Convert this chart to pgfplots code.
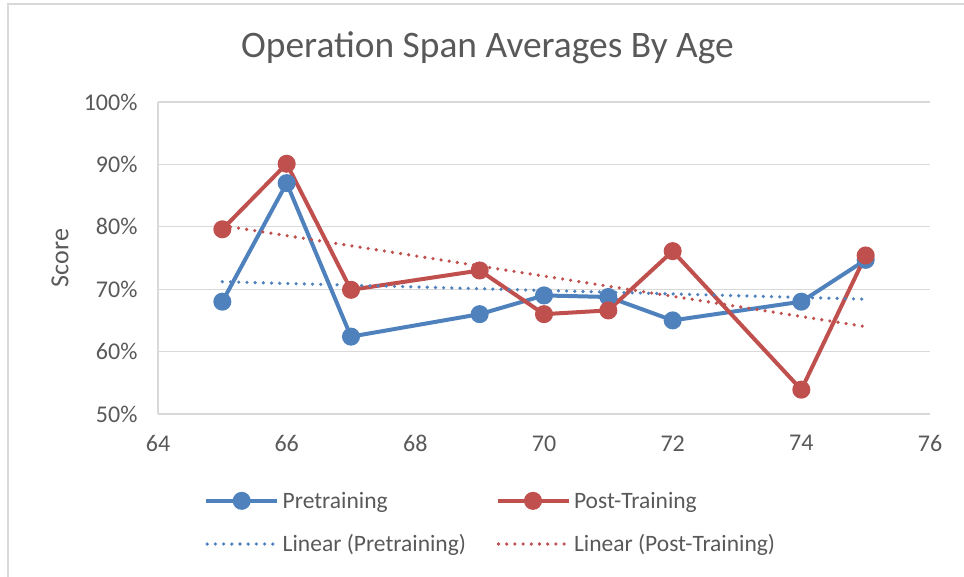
\documentclass[border=0pt]{standalone}
\usepackage{pgfplots}
\pgfplotsset{compat=1.18}
\usepackage{fontspec}
\setmainfont{Carlito}
\definecolor{preblue}{HTML}{4F81BD}
\definecolor{postred}{HTML}{C0504D}
\definecolor{txtgray}{HTML}{595959}
\definecolor{gridgray}{HTML}{D9D9D9}
\pgfplotsset{
  markleg/.style={legend image code/.code={\draw[##1, mark repeat=2, mark phase=2] plot coordinates {(0pt,0pt) (35.5pt,0pt) (71pt,0pt)};}},
  lineleg/.style={legend image code/.code={\draw[##1] (1pt,0pt) -- (71pt,0pt);}},
}
\begin{document}
\begin{tikzpicture}[x=1pt,y=1pt]
\useasboundingbox (0,0) rectangle (964,577);
\draw[gridgray, line width=1.5pt] (8,0) -- (8,573) -- (964,573);
\begin{axis}[
  at={(158pt,163pt)}, anchor=south west,
  scale only axis, width=772pt, height=312pt,
  xmin=64, xmax=76, ymin=50, ymax=100,
  xtick={64,66,...,76}, ytick={50,60,...,100},
  /pgf/number format/assume math mode=true,
  yticklabel={\pgfmathprintnumber{\tick}\%},
  tick style={draw=none},
  axis lines*=left,
  axis line style={gridgray, line width=1.3pt},
  ymajorgrids, grid style={gridgray, line width=1.3pt},
  tick label style={font=\fontsize{24}{27}\selectfont, text=txtgray},
  xticklabel style={yshift=-18pt},
  yticklabel style={xshift=-17pt},
  title={Operation Span Averages By Age},
  title style={font=\fontsize{37.4}{42}\selectfont, text=txtgray, at={(axis description cs:0.4268,1.122)}, anchor=base},
  ylabel={Score},
  ylabel style={font=\fontsize{26}{30}\selectfont, text=txtgray, at={(axis description cs:-0.1269,0.5)}, anchor=center},
  legend columns=2,
  legend cell align=left,
  legend style={at={(axis description cs:0.0596,-0.243)}, anchor=north west, draw=none, fill=none,
    font=\fontsize{23.5}{27}\selectfont, text=txtgray, inner sep=0pt,
    nodes={inner xsep=3.5pt},
    /tikz/every even column/.append style={column sep=26pt}, row sep=21pt},
  clip=false,
]
\addplot[preblue, line width=4pt, mark=*, mark size=7pt, mark options={solid}, markleg]
  coordinates {(65,68.0) (66,87.0) (67,62.4) (69,66.0) (70,69.0) (71,68.75) (72,65.0) (74,68.0) (75,74.7)};
\addlegendentry{Pretraining}
\addplot[postred, line width=4pt, mark=*, mark size=7pt, mark options={solid}, markleg]
  coordinates {(65,79.6) (66,90.1) (67,69.9) (69,73.0) (70,66.0) (71,66.6) (72,76.1) (74,53.9) (75,75.4)};
\addlegendentry{Post-Training}
\addplot[preblue, line width=3.6pt, line cap=round, dash pattern=on 0pt off 8.2pt, mark=none, lineleg]
  coordinates {(65,71.2) (75,68.4)};
\addlegendentry{Linear (Pretraining)}
\addplot[postred, line width=3.6pt, line cap=round, dash pattern=on 0pt off 8.2pt, mark=none, lineleg]
  coordinates {(65,80.2) (75,64.0)};
\addlegendentry{Linear (Post-Training)}
\end{axis}
\end{tikzpicture}
\end{document}
